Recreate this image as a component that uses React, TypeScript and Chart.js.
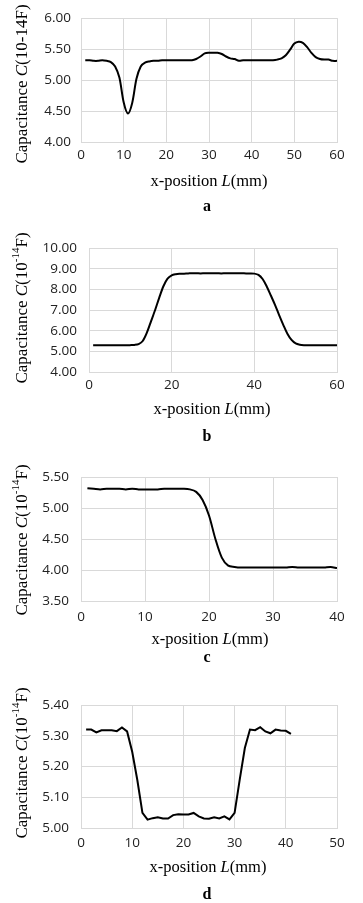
import React, { useEffect, useRef } from "react";
import { Chart, registerables } from "chart.js";

Chart.register(...registerables);

// ---------- data (capacitance, 10^-14 F, sampled every 1 mm starting at L = 1 mm) ----------
const valuesA = [
  5.32, 5.32, 5.31, 5.31, 5.32, 5.31, 5.29, 5.22, 5.04, 4.64,
  4.46, 4.63, 5.02, 5.22, 5.28, 5.3, 5.31, 5.31, 5.32, 5.32,
  5.32, 5.32, 5.32, 5.32, 5.32, 5.32, 5.34, 5.38, 5.43, 5.44,
  5.44, 5.44, 5.42, 5.38, 5.35, 5.34, 5.31, 5.32, 5.32, 5.32,
  5.32, 5.32, 5.32, 5.32, 5.32, 5.33, 5.35, 5.4, 5.49, 5.59,
  5.62, 5.6, 5.53, 5.44, 5.37, 5.34, 5.33, 5.33, 5.31, 5.31,
];
const valuesB = [
  5.3, 5.3, 5.3, 5.3, 5.3, 5.3, 5.3, 5.3, 5.3, 5.3,
  5.31, 5.35, 5.5, 5.9, 6.45, 7.0, 7.6, 8.15, 8.52, 8.68,
  8.73, 8.75, 8.76, 8.77, 8.78, 8.78, 8.77, 8.78, 8.78, 8.78,
  8.78, 8.77, 8.78, 8.78, 8.78, 8.78, 8.78, 8.77, 8.77, 8.76,
  8.7, 8.5, 8.14, 7.7, 7.25, 6.75, 6.28, 5.85, 5.55, 5.38,
  5.32, 5.3, 5.3, 5.3, 5.3, 5.3, 5.3, 5.3, 5.3, 5.3,
];
const valuesC = [
  5.32, 5.31, 5.3, 5.31, 5.31, 5.31, 5.3, 5.31, 5.3, 5.3,
  5.3, 5.3, 5.31, 5.31, 5.31, 5.31, 5.3, 5.26, 5.13, 4.88,
  4.5, 4.2, 4.07, 4.05, 4.04, 4.04, 4.04, 4.04, 4.04, 4.04,
  4.04, 4.04, 4.05, 4.04, 4.04, 4.04, 4.04, 4.04, 4.05, 4.03,
];
const valuesD = [
  5.32, 5.32, 5.311, 5.318, 5.318, 5.318, 5.315, 5.327, 5.314, 5.248,
  5.156, 5.049, 5.027, 5.032, 5.035, 5.031, 5.031, 5.042, 5.045, 5.044,
  5.044, 5.049, 5.038, 5.031, 5.03, 5.035, 5.031, 5.038, 5.028, 5.049,
  5.157, 5.26, 5.32, 5.318, 5.328, 5.314, 5.308, 5.32, 5.317, 5.316,
  5.306,
];

const X_TITLE = "x-position ";
const panelLetters = ["a", "b", "c", "d"];

// ---------- layout ----------
type Seg = { t: string; italic?: boolean; sup?: boolean };
type Panel = {
  values: number[];
  top: number;
  height: number;
  area: { left: number; right: number; top: number; bottom: number };
  xMax: number;
  xStep: number;
  yMin: number;
  yMax: number;
  yStep: number;
  yPad: number;
  xPad: number;
  tension: number;
  yTitle: Seg[];
  yTitlePos: [number, number];
  xTitlePos: [number, number];
  labelPos: [number, number];
  letter: string;
};

const yTitlePlain: Seg[] = [{ t: "Capacitance " }, { t: "C", italic: true }, { t: "(10-14F)" }];
const yTitleSup: Seg[] = [
  { t: "Capacitance " },
  { t: "C", italic: true },
  { t: "(10" },
  { t: "-14", sup: true },
  { t: "F)" },
];
const xTitle: Seg[] = [{ t: X_TITLE }, { t: "L", italic: true }, { t: "(mm)" }];

const panels: Panel[] = [
  {
    values: valuesA, top: 0, height: 215,
    area: { left: 81, right: 337, top: 18, bottom: 142 },
    xMax: 60, xStep: 10, yMin: 4, yMax: 6, yStep: 0.5, yPad: 10, xPad: 5.5, tension: 0.3,
    yTitle: yTitlePlain, yTitlePos: [23, 84], xTitlePos: [209, 182], labelPos: [207, 207], letter: panelLetters[0],
  },
  {
    values: valuesB, top: 215, height: 230,
    area: { left: 89, right: 337, top: 248, bottom: 372 },
    xMax: 60, xStep: 20, yMin: 4, yMax: 10, yStep: 1, yPad: 12, xPad: 5.5, tension: 0.3,
    yTitle: yTitleSup, yTitlePos: [23, 308], xTitlePos: [212, 410], labelPos: [207, 437], letter: panelLetters[1],
  },
  {
    values: valuesC, top: 445, height: 220,
    area: { left: 81, right: 337, top: 477, bottom: 601 },
    xMax: 40, xStep: 10, yMin: 3.5, yMax: 5.5, yStep: 0.5, yPad: 12, xPad: 8, tension: 0.3,
    yTitle: yTitleSup, yTitlePos: [23, 540], xTitlePos: [210, 640], labelPos: [207, 658], letter: panelLetters[2],
  },
  {
    values: valuesD, top: 665, height: 238,
    area: { left: 81, right: 337, top: 705, bottom: 828 },
    xMax: 50, xStep: 10, yMin: 5, yMax: 5.4, yStep: 0.1, yPad: 12, xPad: 7, tension: 0,
    yTitle: yTitleSup, yTitlePos: [23, 763], xTitlePos: [208, 868], labelPos: [207, 895], letter: panelLetters[3],
  },
];

const W = 363;
const XAXIS_H = 30;
const SERIF = '"Liberation Serif", "Times New Roman", serif';
const SANS = '"Open Sans", "Liberation Sans", sans-serif';
const GRID = "#d9d9d9";

function drawSegs(ctx: CanvasRenderingContext2D, segs: Seg[], cx: number, cy: number, size: number, rotate: boolean) {
  ctx.save();
  ctx.translate(cx, cy);
  if (rotate) ctx.rotate(-Math.PI / 2);
  const fontOf = (s: Seg) => `${s.italic ? "italic " : ""}${s.sup ? Math.round(size * 0.66) : size}px ${SERIF}`;
  let total = 0;
  const widths: number[] = [];
  for (const s of segs) {
    ctx.font = fontOf(s);
    const w = ctx.measureText(s.t).width;
    widths.push(w);
    total += w;
  }
  let x = -total / 2;
  ctx.textAlign = "left";
  ctx.textBaseline = "middle";
  ctx.fillStyle = "#000";
  segs.forEach((s, i) => {
    ctx.font = fontOf(s);
    ctx.fillText(s.t, x, s.sup ? -size * 0.38 : 0);
    x += widths[i];
  });
  ctx.restore();
}

function PanelChart({ p }: { p: Panel }) {
  const ref = useRef<HTMLCanvasElement | null>(null);
  useEffect(() => {
    if (!ref.current) return;
    const textPlugin = {
      id: "panelText",
      afterDraw(chart: any) {
        const ctx = chart.ctx as CanvasRenderingContext2D;
        drawSegs(ctx, p.yTitle, p.yTitlePos[0], p.yTitlePos[1] - p.top, 17, true);
        drawSegs(ctx, xTitle, p.xTitlePos[0], p.xTitlePos[1] - p.top, 16.5, false);
        ctx.save();
        ctx.font = `bold 16px ${SERIF}`;
        ctx.fillStyle = "#000";
        ctx.textAlign = "center";
        ctx.textBaseline = "middle";
        ctx.fillText(p.letter, p.labelPos[0], p.labelPos[1] - p.top);
        ctx.restore();
      },
    };
    const chart = new Chart(ref.current, {
      type: "line",
      data: {
        datasets: [
          {
            data: p.values.map((y, i) => ({ x: i + 1, y })),
            borderColor: "#000",
            borderWidth: 2,
            pointRadius: 0,
            tension: p.tension,
            fill: false,
          },
        ],
      },
      options: {
        animation: false,
        responsive: false,
        layout: {
          padding: {
            left: 0,
            right: W - p.area.right,
            top: p.area.top - p.top,
            bottom: p.height - (p.area.bottom - p.top) - XAXIS_H,
          },
        },
        plugins: { legend: { display: false }, tooltip: { enabled: false }, title: { display: false } },
        scales: {
          x: {
            type: "linear",
            min: 0,
            max: p.xMax,
            ticks: {
              stepSize: p.xStep,
              color: "#222",
              font: { family: SANS, size: 13.5 },
              padding: p.xPad,
              maxRotation: 0,
            },
            grid: { color: GRID, drawTicks: false, lineWidth: 1 },
            border: { color: GRID, width: 1 },
            afterFit: (s: any) => {
              s.height = XAXIS_H;
            },
          },
          y: {
            min: p.yMin,
            max: p.yMax,
            ticks: {
              stepSize: p.yStep,
              color: "#222",
              font: { family: SANS, size: 13.5 },
              padding: p.yPad,
              callback: (v: any) => Number(v).toFixed(2),
            },
            grid: { color: GRID, drawTicks: false, lineWidth: 1 },
            border: { color: GRID, width: 1 },
            afterFit: (s: any) => {
              s.width = p.area.left;
            },
          },
        },
      },
      plugins: [textPlugin],
    } as any);
    return () => chart.destroy();
  }, [p]);
  return (
    <canvas
      ref={ref}
      width={W}
      height={p.height}
      style={{ position: "absolute", left: 0, top: p.top, width: W, height: p.height, display: "block" }}
    />
  );
}

export default function App() {
  return (
    <div style={{ position: "absolute", left: 0, top: 0, width: W, height: 903, background: "#fff", overflow: "hidden" }}>
      {panels.map((p) => (
        <PanelChart key={p.letter} p={p} />
      ))}
    </div>
  );
}
